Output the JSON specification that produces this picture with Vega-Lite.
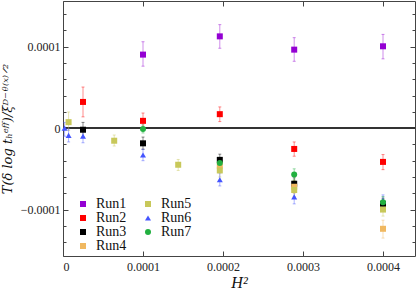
{
  "$schema": "https://vega.github.io/schema/vega-lite/v6.json",
  "width": 352,
  "height": 255,
  "autosize": {"type": "none"},
  "padding": {"left": 63, "top": 1, "right": 1, "bottom": 33},
  "config": {
    "view": {"stroke": "#444444", "strokeWidth": 1},
    "axis": {"grid": false, "domain": false, "labelFont": "Liberation Serif", "labelFontSize": 12, "labelColor": "#222222", "tickColor": "#444444", "titleFont": "Liberation Serif", "titleFontWeight": "normal", "titleColor": "#111111"}
  },
  "data": {"values": [
    {"run": "Run1", "h2": 0.0001, "y": 9.02e-5, "lo": 7.6e-5, "hi": 1.06e-4},
    {"run": "Run1", "h2": 0.000196, "y": 1.126e-4, "lo": 9.8e-5, "hi": 1.27e-4},
    {"run": "Run1", "h2": 0.000289, "y": 9.63e-5, "lo": 8.2e-5, "hi": 1.11e-4},
    {"run": "Run1", "h2": 0.0004, "y": 1.004e-4, "lo": 8.5e-5, "hi": 1.15e-4},
    {"run": "Run2", "h2": 0.000025, "y": 3.21e-5, "lo": 1.38e-5, "hi": 5.04e-5},
    {"run": "Run2", "h2": 0.0001, "y": 8.9e-6, "lo": 0, "hi": 1.85e-5},
    {"run": "Run2", "h2": 0.000196, "y": 1.71e-5, "lo": 8e-6, "hi": 2.6e-5},
    {"run": "Run2", "h2": 0.000289, "y": -2.56e-5, "lo": -3.45e-5, "hi": -1.7e-5},
    {"run": "Run2", "h2": 0.0004, "y": -4.15e-5, "lo": -5.1e-5, "hi": -3.25e-5},
    {"run": "Run3", "h2": 0.000025, "y": -2e-6, "lo": -1.1e-5, "hi": 7e-6},
    {"run": "Run3", "h2": 0.0001, "y": -1.87e-5, "lo": -2.6e-5, "hi": -1.1e-5},
    {"run": "Run3", "h2": 0.000196, "y": -3.9e-5, "lo": -4.6e-5, "hi": -3.2e-5},
    {"run": "Run3", "h2": 0.000289, "y": -6.83e-5, "lo": -7.6e-5, "hi": -6.1e-5},
    {"run": "Run3", "h2": 0.0004, "y": -9.3e-5, "lo": -1.0e-4, "hi": -8.6e-5},
    {"run": "Run4", "h2": 0.000196, "y": -4.6e-5, "lo": -5.4e-5, "hi": -3.8e-5},
    {"run": "Run4", "h2": 0.000289, "y": -7.2e-5, "lo": -8e-5, "hi": -6.4e-5},
    {"run": "Run4", "h2": 0.0004, "y": -1.236e-4, "lo": -1.35e-4, "hi": -1.13e-4},
    {"run": "Run5", "h2": 0.000007, "y": 7.3e-6, "lo": -3e-6, "hi": 1.98e-5},
    {"run": "Run5", "h2": 0.000064, "y": -1.55e-5, "lo": -2.2e-5, "hi": -8.5e-6},
    {"run": "Run5", "h2": 0.000144, "y": -4.5e-5, "lo": -5.2e-5, "hi": -3.85e-5},
    {"run": "Run5", "h2": 0.000196, "y": -5.2e-5, "lo": -6e-5, "hi": -4.4e-5},
    {"run": "Run5", "h2": 0.000289, "y": -7.6e-5, "lo": -8.4e-5, "hi": -6.8e-5},
    {"run": "Run5", "h2": 0.0004, "y": -1.0e-4, "lo": -1.08e-4, "hi": -9.2e-5},
    {"run": "Run6", "h2": 0.000002, "y": 0, "lo": -1e-5, "hi": 7e-6},
    {"run": "Run6", "h2": 0.000007, "y": -9e-6, "lo": -1.7e-5, "hi": -1e-6},
    {"run": "Run6", "h2": 0.000025, "y": -1.0e-5, "lo": -1.8e-5, "hi": -2e-6},
    {"run": "Run6", "h2": 0.0001, "y": -3.3e-5, "lo": -4e-5, "hi": -2.6e-5},
    {"run": "Run6", "h2": 0.000196, "y": -6.34e-5, "lo": -7.1e-5, "hi": -5.5e-5},
    {"run": "Run6", "h2": 0.000289, "y": -8.45e-5, "lo": -9.3e-5, "hi": -7.6e-5},
    {"run": "Run6", "h2": 0.0004, "y": -8.9e-5, "lo": -9.8e-5, "hi": -8.2e-5},
    {"run": "Run7", "h2": 0.0001, "y": -1.2e-6, "lo": -6e-6, "hi": 4e-6},
    {"run": "Run7", "h2": 0.000196, "y": -4.3e-5, "lo": -5e-5, "hi": -3.6e-5},
    {"run": "Run7", "h2": 0.000289, "y": -5.7e-5, "lo": -6.4e-5, "hi": -5e-5},
    {"run": "Run7", "h2": 0.0004, "y": -9.1e-5, "lo": -9.8e-5, "hi": -8.4e-5}
  ]},
  "layer": [
    {
      "mark": {"type": "rule", "color": "#333333", "strokeWidth": 1},
      "encoding": {
        "y": {"datum": 0, "type": "quantitative", "scale": {"domain": [-0.000157, 0.000156], "nice": false, "zero": false}, "axis": null}
      }
    },
    {
      "mark": {"type": "errorbar", "ticks": {"size": 3, "opacity": 0.45}, "rule": {"opacity": 0.45}, "thickness": 1},
      "encoding": {
        "x": {"field": "h2", "type": "quantitative", "scale": {"domain": [0, 0.00044], "nice": false, "zero": false},
          "axis": {"orient": "bottom", "values": [0, 0.0001, 0.0002, 0.0003, 0.0004], "labelExpr": "datum.value == 0 ? '0' : format(datum.value, '.4f')", "tickSize": -5, "labelPadding": 10, "title": "H²", "titleFontStyle": "italic", "titleFontSize": 16, "titlePadding": 2}},
        "y": {"field": "lo", "type": "quantitative", "scale": {"domain": [-0.000157, 0.000156], "nice": false, "zero": false},
          "axis": {"orient": "left", "values": [-0.00014, -0.00012, -0.0001, -0.00008, -0.00006, -0.00004, -0.00002, 0, 0.00002, 0.00004, 0.00006, 0.00008, 0.0001, 0.00012, 0.00014],
            "labelExpr": "abs(datum.value) < 1e-9 ? '0' : (abs(datum.value - 0.0001) < 1e-9 ? '0.0001' : (abs(datum.value + 0.0001) < 1e-9 ? '−0.0001' : ''))",
            "tickSize": {"condition": {"test": "abs(datum.value) < 1e-9 || abs(abs(datum.value) - 0.0001) < 1e-9", "value": -5}, "value": -3},
            "labelPadding": 8, "title": "T(δ log tₕᵉᶠᶠ)/ξᴰ⁻ᶿ⁽ˣ⁾ᐟ²", "titleFont": "DejaVu Serif", "titleFontStyle": "italic", "titleFontSize": 13, "titlePadding": 6}},
        "y2": {"field": "hi"},
        "color": {"field": "run", "type": "nominal", "legend": null,
          "scale": {"domain": ["Run1", "Run2", "Run3", "Run4", "Run5", "Run6", "Run7"], "range": ["#9400d3", "#ff0000", "#000000", "#f0b860", "#c8c85a", "#4455ff", "#22b040"]}}
      }
    },
    {
      "mark": {"type": "point", "filled": true, "opacity": 1},
      "encoding": {
        "x": {"field": "h2", "type": "quantitative", "scale": {"domain": [0, 0.00044], "nice": false, "zero": false}, "axis": null},
        "y": {"field": "y", "type": "quantitative", "scale": {"domain": [-0.000157, 0.000156], "nice": false, "zero": false}, "axis": null},
        "color": {"field": "run", "type": "nominal",
          "scale": {"domain": ["Run1", "Run2", "Run3", "Run4", "Run5", "Run6", "Run7"], "range": ["#9400d3", "#ff0000", "#000000", "#f0b860", "#c8c85a", "#4455ff", "#22b040"]},
          "legend": {"orient": "none", "legendX": 13, "legendY": 196, "columns": 2, "title": null, "labelFont": "Liberation Serif", "labelFontSize": 14, "labelColor": "#111111", "rowPadding": 0, "columnPadding": 14, "labelOffset": 6, "padding": 0, "symbolOpacity": 1}},
        "shape": {"field": "run", "type": "nominal",
          "scale": {"domain": ["Run1", "Run2", "Run3", "Run4", "Run5", "Run6", "Run7"], "range": ["square", "square", "square", "square", "square", "triangle-up", "circle"]}},
        "size": {"field": "run", "type": "nominal",
          "scale": {"domain": ["Run1", "Run2", "Run3", "Run4", "Run5", "Run6", "Run7"], "range": [36, 36, 36, 10, 10, 12, 40]}}
      }
    },
    {
      "mark": {"type": "point", "opacity": 0},
      "encoding": {
        "x": {"field": "h2", "type": "quantitative", "scale": {"domain": [0, 0.00044], "nice": false, "zero": false},
          "axis": {"orient": "top", "values": [0, 0.0001, 0.0002, 0.0003, 0.0004], "labels": false, "tickSize": -5, "title": null}},
        "y": {"field": "y", "type": "quantitative", "scale": {"domain": [-0.000157, 0.000156], "nice": false, "zero": false},
          "axis": {"orient": "right", "values": [-0.00014, -0.00012, -0.0001, -0.00008, -0.00006, -0.00004, -0.00002, 0, 0.00002, 0.00004, 0.00006, 0.00008, 0.0001, 0.00012, 0.00014], "labels": false,
            "tickSize": {"condition": {"test": "abs(datum.value) < 1e-9 || abs(abs(datum.value) - 0.0001) < 1e-9", "value": -5}, "value": -3}, "title": null}}
      }
    }
  ],
  "resolve": {"axis": {"x": "independent", "y": "independent"}, "legend": {"color": "independent", "shape": "independent", "size": "independent"}}
}
